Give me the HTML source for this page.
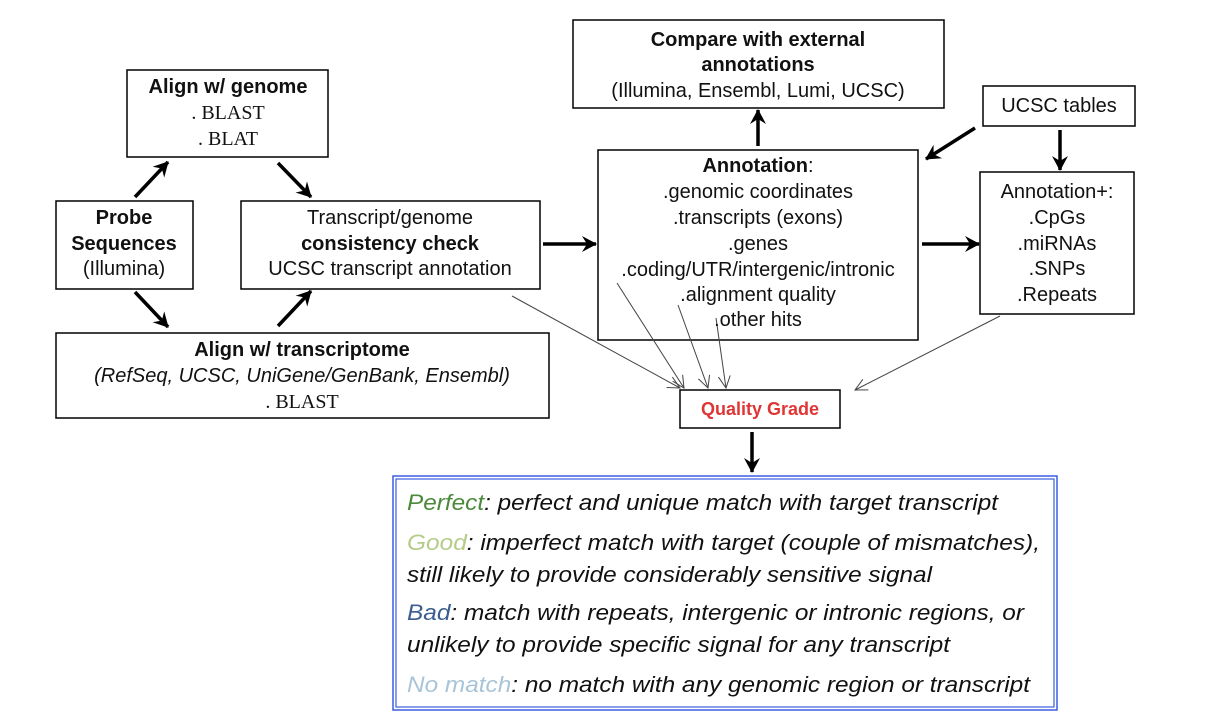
<!DOCTYPE html>
<html><head><meta charset="utf-8"><style>
html,body{margin:0;padding:0;background:#fff}
svg{display:block}
text{font-family:"Liberation Sans",Arial,sans-serif;font-size:20px;fill:#111}
.b{font-weight:bold}
.s{font-family:"Liberation Serif",serif;font-size:20px}
.i{font-style:italic;font-size:22px}
</style></head><body>
<svg width="1217" height="723" viewBox="0 0 1217 723" xmlns="http://www.w3.org/2000/svg">
<defs>
<marker id="ah" markerWidth="20" markerHeight="20" refX="15" refY="10" orient="auto" markerUnits="userSpaceOnUse">
<path d="M1,2 L16,10 L1,18 L6,10 Z" fill="#000"/>
</marker>
<marker id="th" markerWidth="14" markerHeight="14" refX="12" refY="7" orient="auto" markerUnits="userSpaceOnUse">
<path d="M0,1 L12,7 L0,13" fill="none" stroke="#444" stroke-width="1"/>
</marker>
</defs>
<g fill="none" stroke="#000" stroke-width="1.5">
<rect x="127" y="70" width="201" height="87"/>
<rect x="56" y="201" width="137" height="88"/>
<rect x="241" y="201" width="299" height="88"/>
<rect x="56" y="333" width="493" height="85"/>
<rect x="573" y="20" width="371" height="88"/>
<rect x="983" y="86" width="152" height="40"/>
<rect x="598" y="150" width="320" height="190"/>
<rect x="980" y="172" width="154" height="142"/>
<rect x="680" y="390" width="160" height="38"/>
</g>
<rect x="393" y="476" width="664" height="234" fill="none" stroke="#3a5fe0" stroke-width="1.5"/>
<rect x="396" y="479" width="658" height="228" fill="none" stroke="#3a5fe0" stroke-width="1.2"/>
<g stroke="#000" stroke-width="3.5" marker-end="url(#ah)">
<line x1="135" y1="197" x2="168" y2="162"/>
<line x1="278" y1="163" x2="311" y2="197"/>
<line x1="135" y1="292" x2="168" y2="327"/>
<line x1="278" y1="326" x2="311" y2="291"/>
<line x1="543" y1="244" x2="596" y2="244"/>
<line x1="758" y1="146" x2="758" y2="110"/>
<line x1="975" y1="128" x2="926" y2="159"/>
<line x1="1060" y1="130" x2="1060" y2="170"/>
<line x1="922" y1="244" x2="979" y2="244"/>
<line x1="752" y1="432" x2="752" y2="472"/>
</g>
<g stroke="#444" stroke-width="1" marker-end="url(#th)">
<line x1="512" y1="296" x2="680" y2="388"/>
<line x1="617" y1="283" x2="684" y2="388"/>
<line x1="678" y1="305" x2="708" y2="388"/>
<line x1="716" y1="318" x2="726" y2="388"/>
<line x1="1000" y1="316" x2="855" y2="390"/>
</g>
<g text-anchor="middle" dominant-baseline="central">
<text x="228" y="87" class="b">Align w/ genome</text>
<text x="228" y="113" class="s">. BLAST</text>
<text x="228" y="139" class="s">. BLAT</text>
<text x="124" y="218" class="b">Probe</text>
<text x="124" y="244" class="b">Sequences</text>
<text x="124" y="269">(Illumina)</text>
<text x="390" y="218">Transcript/genome</text>
<text x="390" y="244" class="b">consistency check</text>
<text x="390" y="269">UCSC transcript annotation</text>
<text x="302" y="350" class="b">Align w/ transcriptome</text>
<text x="302" y="376" font-style="italic">(RefSeq, UCSC, UniGene/GenBank, Ensembl)</text>
<text x="302" y="402" class="s">. BLAST</text>
<text x="758" y="40" class="b">Compare with external</text>
<text x="758" y="65" class="b">annotations</text>
<text x="758" y="91">(Illumina, Ensembl, Lumi, UCSC)</text>
<text x="1059" y="106">UCSC tables</text>
<text x="758" y="166"><tspan class="b">Annotation</tspan>:</text>
<text x="758" y="192">.genomic coordinates</text>
<text x="758" y="218">.transcripts (exons)</text>
<text x="758" y="244">.genes</text>
<text x="758" y="270">.coding/UTR/intergenic/intronic</text>
<text x="758" y="295">.alignment quality</text>
<text x="758" y="320">.other hits</text>
<text x="1057" y="192">Annotation+:</text>
<text x="1057" y="218">.CpGs</text>
<text x="1057" y="244">.miRNAs</text>
<text x="1057" y="269">.SNPs</text>
<text x="1057" y="295">.Repeats</text>
<text x="760" y="409" class="b" style="fill:#e03535;font-size:18px">Quality Grade</text>
</g>
<g>
<text x="407" y="510" class="i" textLength="591" lengthAdjust="spacingAndGlyphs"><tspan style="fill:#4a8a3a">Perfect</tspan>: perfect and unique match with target transcript</text>
<text x="407" y="550" class="i" textLength="633" lengthAdjust="spacingAndGlyphs"><tspan style="fill:#b5cc88">Good</tspan>: imperfect match with target (couple of mismatches),</text>
<text x="407" y="582" class="i" textLength="525" lengthAdjust="spacingAndGlyphs">still likely to provide considerably sensitive signal</text>
<text x="407" y="620" class="i" textLength="617" lengthAdjust="spacingAndGlyphs"><tspan style="fill:#3b5d90">Bad</tspan>: match with repeats, intergenic or intronic regions, or</text>
<text x="407" y="652" class="i" textLength="543" lengthAdjust="spacingAndGlyphs">unlikely to provide specific signal for any transcript</text>
<text x="407" y="692" class="i" textLength="623" lengthAdjust="spacingAndGlyphs"><tspan style="fill:#a9c4d8">No match</tspan>: no match with any genomic region or transcript</text>
</g>
</svg>
</body></html>
